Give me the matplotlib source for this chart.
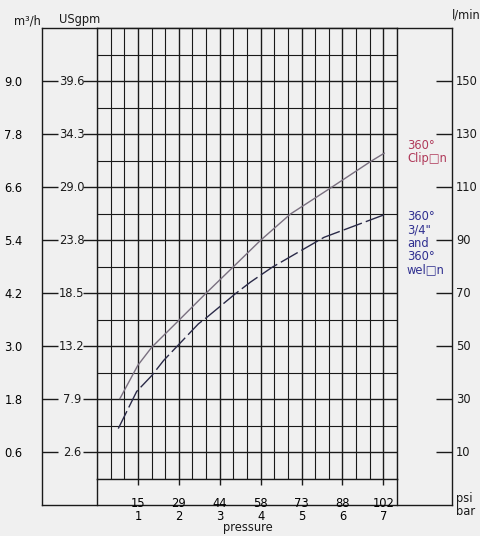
import matplotlib
matplotlib.use("Agg")
import matplotlib.pyplot as plt
from matplotlib.lines import Line2D
import matplotlib.transforms as mtransforms

# ---- data ----
clipon_bar = [0.56, 1.0, 1.34, 2.0, 2.65, 3.34, 4.0, 4.73, 5.67, 6.69, 7.02]
clipon_lpm = [30.3, 42.9, 49.7, 59.8, 69.8, 80.1, 90.0, 99.9, 109.3, 119.7, 122.8]
weldon_bar = [0.52, 0.97, 1.34, 1.63, 2.48, 2.69, 3.38, 3.75, 4.28, 5.55, 7.02]
weldon_lpm = [19.0, 33.0, 39.0, 44.7, 58.5, 61.0, 69.8, 74.2, 79.8, 91.1, 99.6]

lpm_ticks = [10, 30, 50, 70, 90, 110, 130, 150]
m3h_labels = ["0.6", "1.8", "3.0", "4.2", "5.4", "6.6", "7.8", "9.0"]
gpm_labels = ["2.6", "7.9", "13.2", "18.5", "23.8", "29.0", "34.3", "39.6"]
lpm_labels = ["10", "30", "50", "70", "90", "110", "130", "150"]
bar_ticks = [1, 2, 3, 4, 5, 6, 7]
psi_labels = ["15", "29", "44", "58", "73", "88", "102"]
bar_labels = ["1", "2", "3", "4", "5", "6", "7"]

W, H = 481, 536
BG = "#f0f0f0"
LC = "#1a1a1a"
FS = 8.3

fig = plt.figure(figsize=(W / 100, H / 100), dpi=100, facecolor=BG)

def fx(px):
    return px / W

def fy(py):
    return 1 - py / H

# main grid axes: x 97..397 px, y 28..479 px
gl, gr, gt, gb = 97, 397, 28, 479
ax = fig.add_axes([fx(gl), fy(gb), fx(gr) - fx(gl), fy(gt) - fy(gb)])
ax.set_facecolor(BG)
ax.set_xlim(0, 22 / 3)
ax.set_ylim(0, 170)

ax.set_xticks(bar_ticks)
ax.set_xticks([i / 3 for i in range(23)], minor=True)
ax.set_yticks(lpm_ticks)
ax.set_yticks(list(range(0, 171, 10)), minor=True)
ax.grid(True, which="major", color=LC, lw=1.0)
ax.grid(True, which="minor", color=LC, lw=0.8)
ax.set_axisbelow(True)
for s in ax.spines.values():
    s.set_color(LC)
    s.set_linewidth(1.0)

ax.tick_params(axis="x", which="major", direction="out", length=4, width=1,
               color=LC, labelsize=FS, pad=9)
ax.set_xticklabels([f"{p}\n{b}" for p, b in zip(psi_labels, bar_labels)],
                   linespacing=0.95)
ax.tick_params(axis="x", which="minor", length=0)
ax.tick_params(axis="y", which="major", direction="out", length=10, width=1,
               color=LC, labelleft=False)
ax.tick_params(axis="y", which="minor", length=0)

ax.plot(clipon_bar, clipon_lpm, color="#7a7080", lw=1.0)
ax.plot(weldon_bar, weldon_lpm, color="#2a2a48", lw=1.0, dashes=(14, 3))

# outer frame axes: x 42..452, y 28..505
ol, orr, ot, ob = 42, 452, 28, 505
oax = fig.add_axes([fx(ol), fy(ob), fx(orr) - fx(ol), fy(ot) - fy(ob)], zorder=-1)
oax.set_facecolor(BG)
ppl = (gb - gt) / 170.0
oax.set_ylim(-(ob - gb) / ppl, 170)
oax.set_xlim(0, 1)
oax.set_xticks([])
oax.set_yticks(lpm_ticks)
oax.set_yticklabels(m3h_labels, fontsize=FS)
oax.tick_params(axis="y", which="major", direction="in", length=11.5, width=1,
                color=LC, pad=14, left=True, right=True, labelright=False)
for s in oax.spines.values():
    s.set_color(LC)
    s.set_linewidth(1.0)

tr = mtransforms.blended_transform_factory(fig.transFigure, ax.transData)
for v, g, l in zip(lpm_ticks, gpm_labels, lpm_labels):
    ax.text(fx(72), v, g, transform=tr, ha="center", va="center", fontsize=FS,
            color=LC, clip_on=False)
    ax.text(fx(456), v, l, transform=tr, ha="left", va="center", fontsize=FS,
            color=LC, clip_on=False)

# vertical lines of grid extending to bottom frame
for xp in (gl, gr):
    fig.add_artist(Line2D([fx(xp), fx(xp)], [fy(ob), fy(gb)], color=LC, lw=1.0))

# headers
fig.text(fx(27), fy(21), "m³/h", ha="center", va="center", fontsize=FS, color=LC)
fig.text(fx(80), fy(20), "USgpm", ha="center", va="center", fontsize=FS, color=LC)
fig.text(fx(481), fy(15), "l/min", ha="right", va="center", fontsize=FS, color=LC)
fig.text(fx(456), fy(505), "psi\nbar", ha="left", va="center", fontsize=FS,
         color=LC, linespacing=0.95)
fig.text(fx(248), fy(527), "pressure", ha="center", va="center", fontsize=FS,
         color=LC)

# series labels
fig.text(fx(407), fy(152), "360°\nClip□n", ha="left", va="center", fontsize=FS,
         color="#b03a5a", linespacing=1.05)
fig.text(fx(407), fy(243), "360°\n3/4\"\nand\n360°\nwel□n", ha="left",
         va="center", fontsize=FS, color="#303090", linespacing=1.05)

fig.savefig("out.png", dpi=100, facecolor=BG)
